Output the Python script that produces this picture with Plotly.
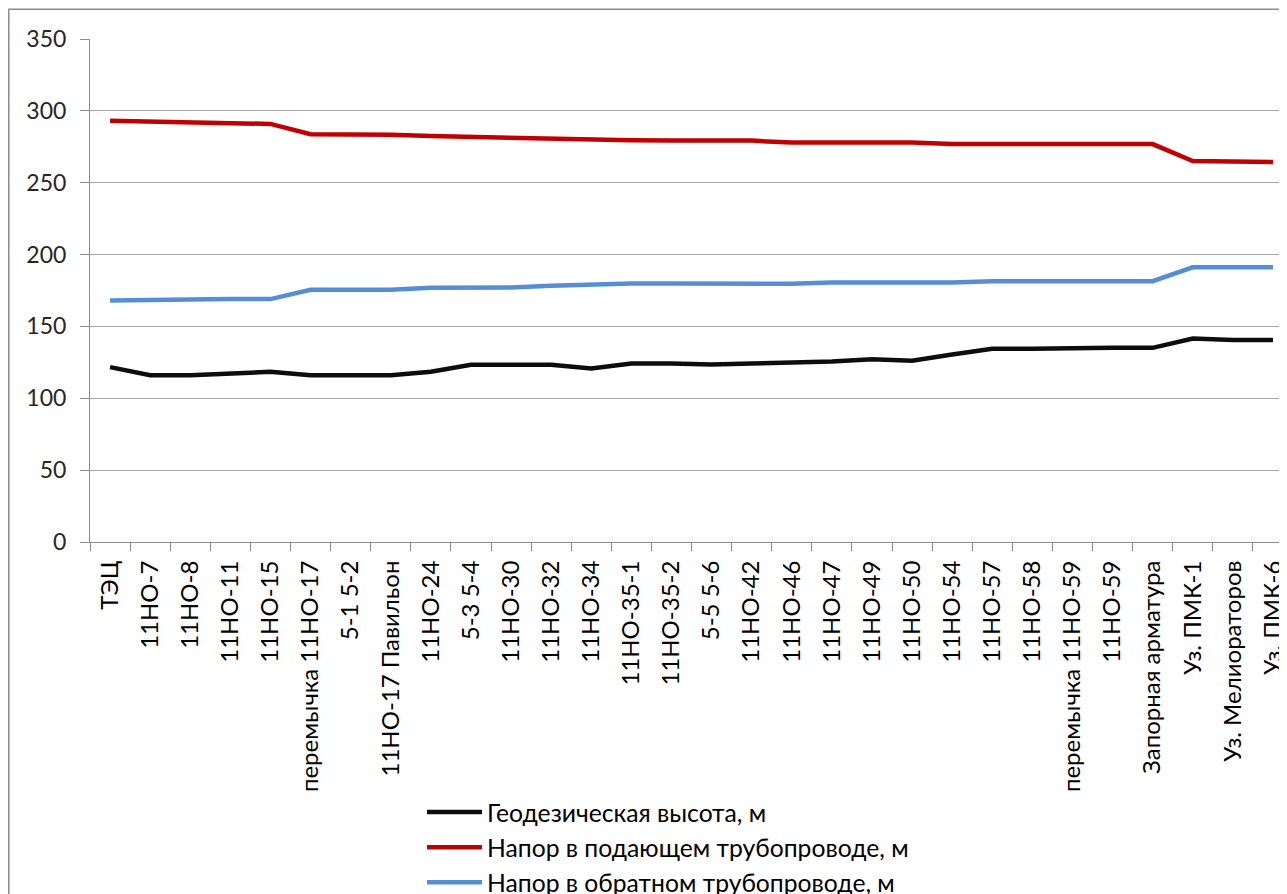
import plotly.graph_objects as go

categories = [
    "ТЭЦ", "11НО-7", "11НО-8", "11НО-11", "11НО-15", "перемычка 11НО-17",
    "5-1 5-2", "11НО-17 Павильон", "11НО-24", "5-3 5-4", "11НО-30", "11НО-32",
    "11НО-34", "11НО-35-1", "11НО-35-2", "5-5 5-6", "11НО-42", "11НО-46",
    "11НО-47", "11НО-49", "11НО-50", "11НО-54", "11НО-57", "11НО-58",
    "перемычка 11НО-59", "11НО-59", "Запорная арматура", "Уз. ПМК-1",
    "Уз. Мелиораторов", "Уз. ПМК-6",
]

geodetic = [121.7, 116.1, 116.1, 117.2, 118.4, 116.1, 116.1, 116.1, 118.4, 123.3,
            123.3, 123.3, 120.7, 124.2, 124.2, 123.5, 124.2, 124.9, 125.6, 127.2,
            126.1, 130.5, 134.4, 134.4, 135.1, 135.1, 135.1, 141.6, 140.5, 140.5]

supply = [293.2, 292.7, 292.3, 292.0, 290.9, 283.7, 283.7, 283.4, 282.5, 281.8,
          281.8, 280.4, 280.2, 279.5, 279.3, 279.3, 279.3, 277.9, 277.9, 277.9,
          277.9, 276.9, 276.9, 276.9, 276.9, 276.9, 276.9, 265.1, 264.9, 264.4]

ret = [168.1, 168.1, 168.8, 169.0, 169.0, 175.5, 175.5, 175.5, 176.9, 177.1,
       177.1, 178.3, 179.2, 179.9, 179.9, 179.7, 179.7, 179.7, 180.6, 180.6,
       180.6, 180.6, 181.5, 181.5, 181.5, 181.5, 181.5, 191.1, 191.1, 191.1]

series_names = [
    "Геодезическая высота, м",
    "Напор в подающем трубопроводе, м",
    "Напор в обратном трубопроводе, м",
]
series_colors = ["#0d0d0d", "#c00000", "#558ed5"]
y_ticks = [0, 50, 100, 150, 200, 250, 300, 350]

fig = go.Figure()
for name, vals, color in zip(series_names, [geodetic, supply, ret], series_colors):
    fig.add_trace(go.Scatter(
        x=categories, y=vals, mode="lines", name=name,
        line=dict(color=color, width=4.5),
    ))

fig.update_layout(
    width=1287, height=920,
    margin=dict(l=82, r=0, t=31, b=386, autoexpand=False),
    paper_bgcolor="white", plot_bgcolor="white",
    showlegend=True,
    legend=dict(
        x=0.2755, xanchor="left", y=-0.492, yanchor="top",
        font=dict(family="Lato", size=24.7, color="#000000"),
        itemwidth=55,
        bgcolor="rgba(0,0,0,0)",
    ),
    xaxis=dict(
        type="category", range=[-0.5, 29.55],
        tickson="boundaries", ticks="outside", ticklen=8, tickcolor="#8c8c8c",
        showline=True, linecolor="#8c8c8c", linewidth=1,
        showgrid=False, zeroline=False, automargin=False,
        tickangle=-90, ticklabelstandoff=8,
        tickfont=dict(family="Lato", size=24, color="#000000"),
    ),
    yaxis=dict(
        range=[0, 350], tickvals=y_ticks,
        ticks="outside", ticklen=9, tickcolor="#8c8c8c",
        showline=True, linecolor="#8c8c8c", linewidth=1,
        showgrid=True, gridcolor="#a6a6a6", gridwidth=1,
        zeroline=False, automargin=False, ticklabelstandoff=9,
        tickfont=dict(family="Lato", size=23, color="#262626"),
    ),
    shapes=[dict(
        type="rect", xref="paper", yref="paper",
        x0=-0.0674, x1=1.2, y0=-1.5, y1=1.0589,
        line=dict(color="#8c8c8c", width=1.5), layer="below",
    )],
)

fig.write_html("out.html")
